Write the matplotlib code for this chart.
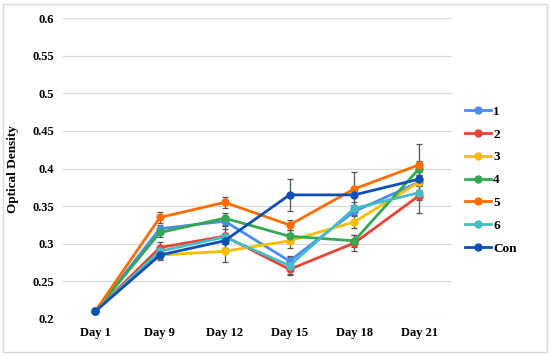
#!/usr/bin/env python
# coding: utf-8

import numpy as np
import matplotlib.pyplot as plt
from matplotlib.patches import Rectangle

days = ['Day 1', 'Day 9', 'Day 12', 'Day 15', 'Day 18', 'Day 21']
labels = ['1', '2', '3', '4', '5', '6', 'Con']

s1 = [0.21, 0.320, 0.330, 0.277, 0.343, 0.382]
s2 = [0.21, 0.295, 0.310, 0.266, 0.301, 0.364]
s3 = [0.21, 0.285, 0.290, 0.304, 0.329, 0.382]
s4 = [0.21, 0.315, 0.334, 0.310, 0.304, 0.400]
s5 = [0.21, 0.335, 0.355, 0.325, 0.373, 0.405]
s6 = [0.21, 0.290, 0.309, 0.271, 0.347, 0.368]
con = [0.21, 0.285, 0.304, 0.365, 0.365, 0.386]

e1 = [0, 0.005, 0.005, 0.006, 0.005, 0.005]
e2 = [0, 0.007, 0.010, 0.006, 0.011, 0.006]
e3 = [0, 0.005, 0.014, 0.010, 0.008, 0.010]
e4 = [0, 0.006, 0.007, 0.008, 0.008, 0.010]
e5 = [0, 0.007, 0.007, 0.007, 0.022, 0.028]
e6 = [0, 0.005, 0.014, 0.013, 0.005, 0.027]
econ = [0, 0.006, 0.010, 0.021, 0.010, 0.005]

series = [s1, s2, s3, s4, s5, s6, con]
errors = [e1, e2, e3, e4, e5, e6, econ]
colors = ['#4a8cf0', '#ea4335', '#fbbc04', '#34a853', '#ff6d01', '#46bdc6', '#0d4fb5']

plt.rcParams['font.family'] = ['Liberation Serif', 'DejaVu Serif']
plt.rcParams['font.weight'] = 'bold'

fig = plt.figure(figsize=(5.5, 3.56), dpi=100)
ax = fig.add_axes([0.114, 0.104, 0.707, 0.845])
fig.patches.append(Rectangle((0.006, 0.01), 0.988, 0.98, transform=fig.transFigure,
                             fill=False, edgecolor='#d9d9d9', linewidth=1.0))

x = np.arange(len(days))
for ys, es, lab, c in zip(series, errors, labels, colors):
	err = np.array(es, dtype=float)
	err[err == 0] = np.nan
	ax.errorbar(x, ys, yerr=err, fmt='none', ecolor='#555555', elinewidth=0.9,
	            capsize=2.5, capthick=0.9, zorder=2)
for ys, lab, c in zip(series, labels, colors):
	ax.plot(x, ys, color=c, lw=2.0, marker='o', ms=5, label=lab, zorder=3)

ax.set_xlim(-0.5, len(days) - 0.5)
ax.set_ylim(0.2, 0.6)
ax.set_yticks(np.arange(0.2, 0.601, 0.05))
ax.set_yticklabels(['0.2', '0.25', '0.3', '0.35', '0.4', '0.45', '0.5', '0.55', '0.6'])
ax.set_xticks(x)
ax.set_xticklabels(days)
ax.tick_params(length=0, labelsize=9, pad=6)
ax.yaxis.grid(True, color='#d9d9d9', lw=0.9)
ax.set_axisbelow(True)
for sp in ax.spines.values():
	sp.set_visible(False)
ax.set_ylabel('Optical Density', fontsize=9.5, fontweight='bold', labelpad=10)

fig.legend(loc='center left', bbox_to_anchor=(0.845, 0.494), frameon=False,
           fontsize=9.5, handlelength=2.0, handletextpad=0.15, labelspacing=0.8,
           borderpad=0, borderaxespad=0)

fig.savefig('out.png', dpi=100)
